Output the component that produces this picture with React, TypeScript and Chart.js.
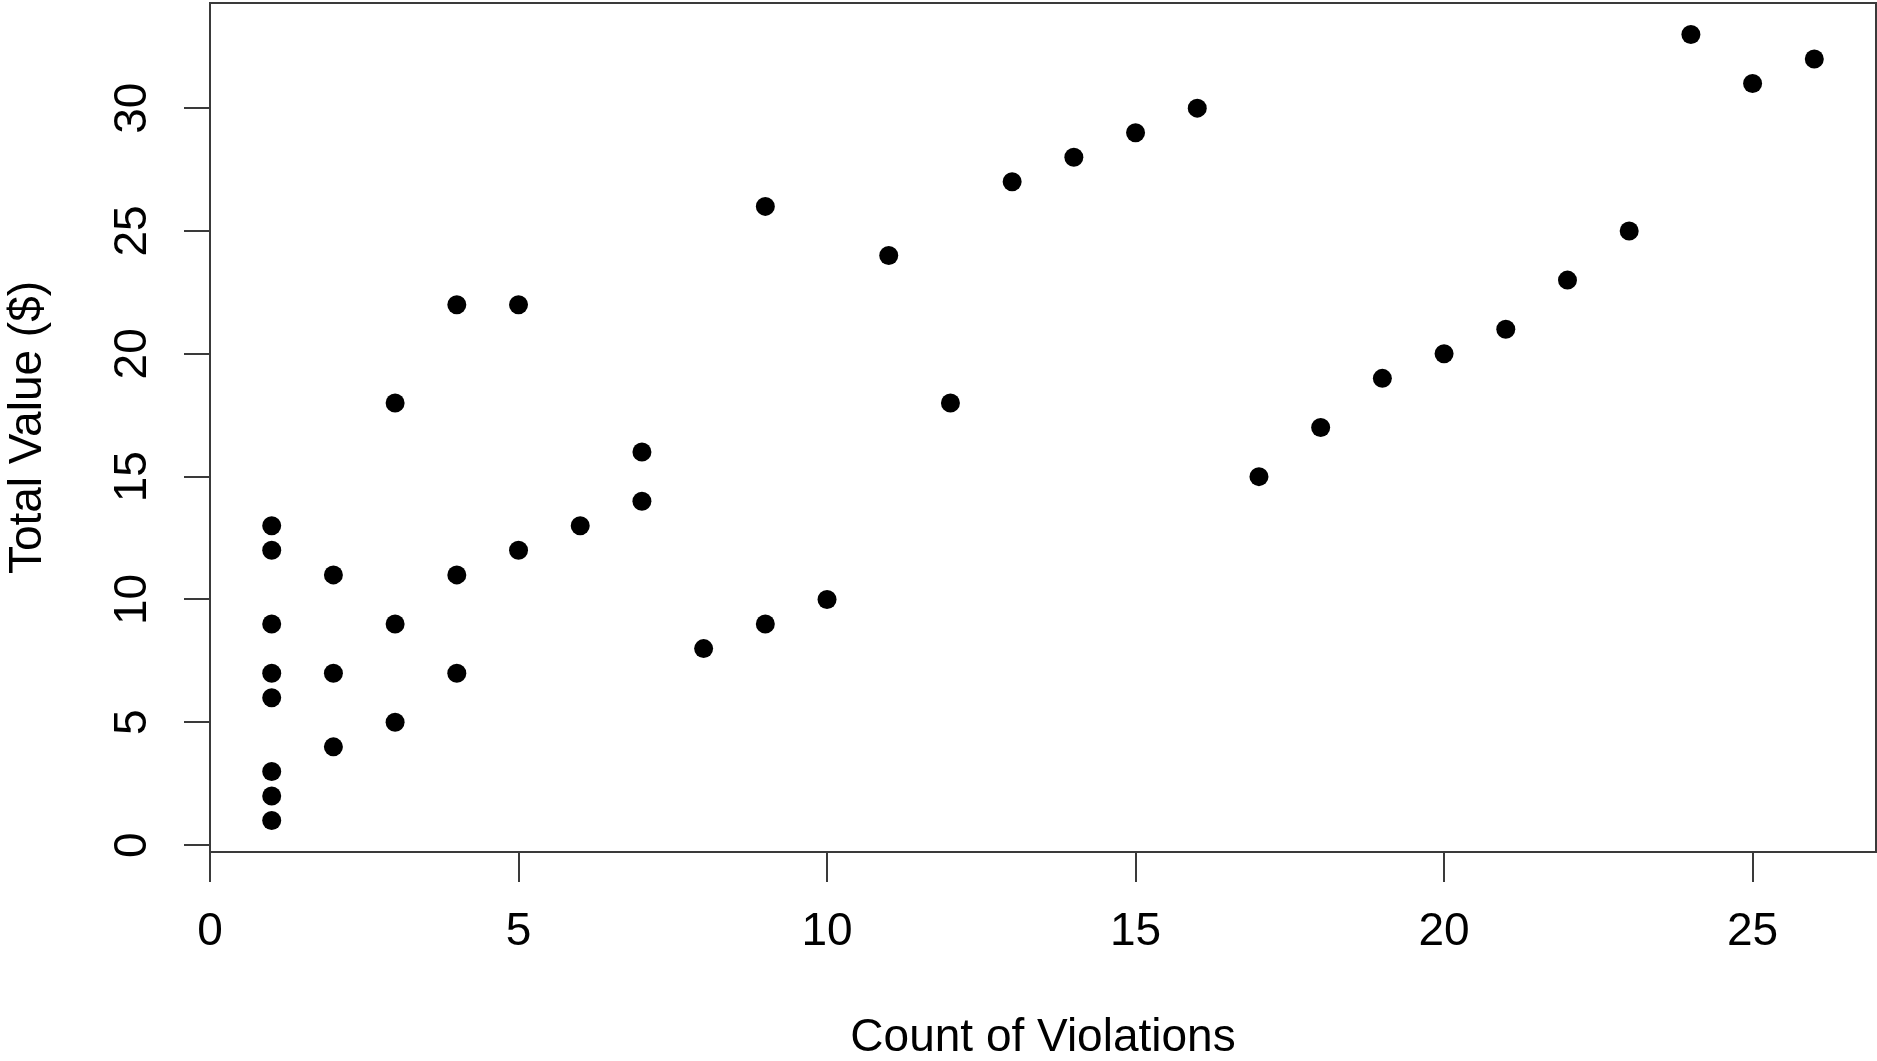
import React, { useEffect, useRef } from "react";
import { Chart, registerables } from "chart.js";

Chart.register(...registerables);

// Data
const violationCounts = [
  1, 1, 1, 1, 1, 1, 1, 1,
  2, 2, 2,
  3, 3, 3,
  4, 4, 4,
  5, 5,
  6,
  7, 7,
  8,
  9, 9,
  10, 11, 12, 13, 14, 15, 16, 17, 18, 19, 20, 21, 22, 23, 24, 25, 26,
];
const totalValues = [
  13, 12, 9, 7, 6, 3, 2, 1,
  11, 7, 4,
  18, 9, 5,
  22, 11, 7,
  22, 12,
  13,
  16, 14,
  8,
  26, 9,
  10, 24, 18, 27, 28, 29, 30, 15, 17, 19, 20, 21, 23, 25, 33, 31, 32,
];
const xTickValues = [0, 5, 10, 15, 20, 25];
const yTickValues = [0, 5, 10, 15, 20, 25, 30];
const xAxisTitle = "Count of Violations";
const yAxisTitle = "Total Value ($)";

const FONT_FAMILY = "'Liberation Sans', Arial, Helvetica, sans-serif";
const AXIS_COLOR = "#3a3a3a";

const boxPlugin = {
  id: "plotBox",
  afterDraw(chart: any) {
    const { ctx, chartArea } = chart;
    ctx.save();
    ctx.strokeStyle = AXIS_COLOR;
    ctx.lineWidth = 2;
    ctx.strokeRect(
      chartArea.left,
      chartArea.top,
      chartArea.right - chartArea.left,
      chartArea.bottom - chartArea.top
    );
    ctx.restore();
  },
};

export default function App() {
  const canvasRef = useRef<HTMLCanvasElement | null>(null);

  useEffect(() => {
    if (!canvasRef.current) return;
    const points = violationCounts.map((x, i) => ({ x, y: totalValues[i] }));
    const chart = new Chart(canvasRef.current, {
      type: "scatter",
      data: {
        datasets: [
          {
            data: points,
            backgroundColor: "#000000",
            borderColor: "#000000",
            borderWidth: 0,
            pointRadius: 9.5,
            pointHoverRadius: 9.5,
            pointStyle: "circle",
          },
        ],
      },
      plugins: [boxPlugin],
      options: {
        animation: false,
        responsive: true,
        maintainAspectRatio: false,
        layout: {
          autoPadding: false,
          padding: { top: 3, right: 1, left: 0, bottom: 0 },
        },
        plugins: {
          legend: { display: false },
          tooltip: { enabled: false },
        },
        scales: {
          x: {
            type: "linear",
            min: 0,
            max: 27,
            afterBuildTicks: (scale: any) => {
              scale.ticks = xTickValues.map((v) => ({ value: v }));
            },
            afterFit: (scale: any) => {
              scale.height = 209;
              scale.paddingLeft = 0;
              scale.paddingRight = 0;
            },
            grid: {
              display: true,
              drawOnChartArea: false,
              drawTicks: true,
              tickLength: 30,
              color: AXIS_COLOR,
              lineWidth: 2,
            },
            border: { display: true, color: AXIS_COLOR, width: 2 },
            ticks: {
              autoSkip: false,
              maxRotation: 0,
              minRotation: 0,
              padding: 23,
              color: "#000000",
              font: { family: FONT_FAMILY, size: 46, lineHeight: 1.2 },
            },
            title: {
              display: true,
              text: xAxisTitle,
              color: "#000000",
              font: { family: FONT_FAMILY, size: 46, lineHeight: 1 },
              padding: { top: 0, bottom: 0 },
            },
          },
          y: {
            type: "linear",
            min: -0.28,
            max: 34.28,
            afterBuildTicks: (scale: any) => {
              scale.ticks = yTickValues.map((v) => ({ value: v }));
            },
            afterFit: (scale: any) => {
              scale.width = 210;
              scale.paddingTop = 0;
              scale.paddingBottom = 0;
            },
            grid: {
              display: true,
              drawOnChartArea: false,
              drawTicks: true,
              tickLength: 26,
              color: AXIS_COLOR,
              lineWidth: 2,
            },
            border: { display: true, color: AXIS_COLOR, width: 2 },
            ticks: {
              autoSkip: false,
              minRotation: 90,
              maxRotation: 90,
              crossAlign: "center",
              padding: 25,
              color: "#000000",
              font: { family: FONT_FAMILY, size: 46, lineHeight: 1.2 },
            },
            title: {
              display: true,
              text: yAxisTitle,
              color: "#000000",
              font: { family: FONT_FAMILY, size: 46, lineHeight: 1 },
              padding: { top: 5, bottom: 0 },
            },
          },
        },
      },
    } as any);
    return () => chart.destroy();
  }, []);

  return (
    <div
      style={{
        position: "fixed",
        left: 0,
        top: 0,
        width: "1877px",
        height: "1061px",
        background: "#ffffff",
      }}
    >
      <canvas ref={canvasRef} />
    </div>
  );
}
